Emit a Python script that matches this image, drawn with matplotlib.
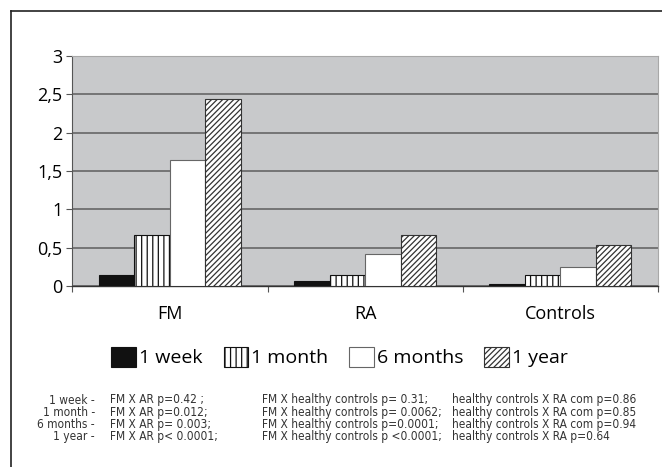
import matplotlib
matplotlib.use("Agg")
import matplotlib.pyplot as plt
import numpy as np
from matplotlib import font_manager
from matplotlib.lines import Line2D

# ---------------------------------------------------------------------------
# Data
# ---------------------------------------------------------------------------
groups = ["FM", "RA", "Controls"]
periods = ["1 week", "1 month", "6 months", "1 year"]

week = [0.14, 0.07, 0.02]
month = [0.66, 0.15, 0.15]
six_months = [1.65, 0.42, 0.25]
year = [2.44, 0.66, 0.54]

ytick_values = [0, 0.5, 1, 1.5, 2, 2.5, 3]
ytick_labels = ["0", "0,5", "1", "1,5", "2", "2,5", "3"]

note_labels = ["1 week -", "1 month -", "6 months -", "1 year -"]
note_fm_ra = ["FM X AR p=0.42 ;", "FM X AR p=0.012;",
              "FM X AR p= 0.003;", "FM X AR p< 0.0001;"]
note_fm_hc = ["FM X healthy controls p= 0.31;",
              "FM X healthy controls p= 0.0062;",
              "FM X healthy controls p=0.0001;",
              "FM X healthy controls p <0.0001;"]
note_hc_ra = ["healthy controls X RA com p=0.86",
              "healthy controls X RA com p=0.85",
              "healthy controls X RA com p=0.94",
              "healthy controls X RA p=0.64"]

# ---------------------------------------------------------------------------
# Style
# ---------------------------------------------------------------------------
plt.rcParams["font.family"] = ["Open Sans", "DejaVu Sans"]
plt.rcParams["hatch.linewidth"] = 0.9

# narrow font for the footnote if one is installed
cond_path = font_manager.findfont(
    font_manager.FontProperties(family="DejaVu Sans", stretch="condensed"))
if "Condensed" in cond_path:
    note_font = dict(family="DejaVu Sans", stretch="condensed", fontsize=8.6)
else:
    note_font = dict(family="DejaVu Sans", fontsize=7.6)

W, H = 662, 467
fig = plt.figure(figsize=(W / 100, H / 100), dpi=100)
ax = fig.add_axes([72.3 / W, 1 - 286 / H, (658 - 72.3) / W, (286 - 56) / H])
ax.set_facecolor("#c8c9cb")

series = [week, month, six_months, year]
styles = [
    dict(color="#111111", edgecolor="#111111", hatch=None),
    dict(color="white", edgecolor="#111111", hatch="|||"),
    dict(color="white", edgecolor="#666666", hatch=None),
    dict(color="white", edgecolor="#333333", hatch="//////"),
]

x = np.arange(len(groups))
bw = 1 / 5.5
handles = []
for i, (vals, st) in enumerate(zip(series, styles)):
    b = ax.bar(x + (i - 1.5) * bw, vals, width=bw, facecolor=st["color"],
               edgecolor=st["edgecolor"], hatch=st["hatch"], linewidth=0.8,
               label=periods[i], zorder=3)
    handles.append(b)

ax.set_xlim(-0.5, len(groups) - 0.5)
ax.set_ylim(0, 3)
ax.set_yticks(ytick_values, ytick_labels)
ax.yaxis.grid(True, color="#6e6e6e", linewidth=1.3, zorder=1)
ax.set_axisbelow(True)

ax.set_xticks(x, groups)
ax.set_xticks(np.arange(len(groups) + 1) - 0.5, minor=True)
ax.tick_params(axis="x", which="major", length=0, pad=14, labelsize=13)
ax.tick_params(axis="x", which="minor", length=4, width=0.8, color="#555555",
               direction="out")
ax.tick_params(axis="y", length=4, width=0.8, color="#555555", labelsize=13,
               pad=3)

for side in ["top", "right"]:
    ax.spines[side].set_color("#a8a8a8")
    ax.spines[side].set_linewidth(0.8)
ax.spines["left"].set_color("#555555")
ax.spines["bottom"].set_color("#333333")
ax.spines["bottom"].set_linewidth(1.0)
ax.spines["left"].set_linewidth(0.8)

leg = fig.legend(handles=handles, labels=periods, ncol=4, loc="center",
                 bbox_to_anchor=(339.5 / W, 1 - 357 / H), frameon=False,
                 fontsize=14, handlelength=1.25, handleheight=1.25,
                 handletextpad=0.15, columnspacing=1.1, borderaxespad=0)

# frame around the figure (top and left edges visible)
fig.add_artist(Line2D([10.7 / W, 1.0], [1 - 11 / H, 1 - 11 / H],
                      color="#222222", linewidth=1.2))
fig.add_artist(Line2D([10.7 / W, 10.7 / W], [0, 1 - 11 / H],
                      color="#222222", linewidth=1.2))

# footnote
for k in range(len(note_labels)):
    yy = 1 - (400 + k * 12.2) / H
    kw = dict(color="#333333", va="center", **note_font)
    fig.text(95 / W, yy, note_labels[k], ha="right", **kw)
    fig.text(110 / W, yy, note_fm_ra[k], ha="left", **kw)
    fig.text(261.7 / W, yy, note_fm_hc[k], ha="left", **kw)
    fig.text(452.3 / W, yy, note_hc_ra[k], ha="left", **kw)

fig.savefig("out.png", dpi=100)
